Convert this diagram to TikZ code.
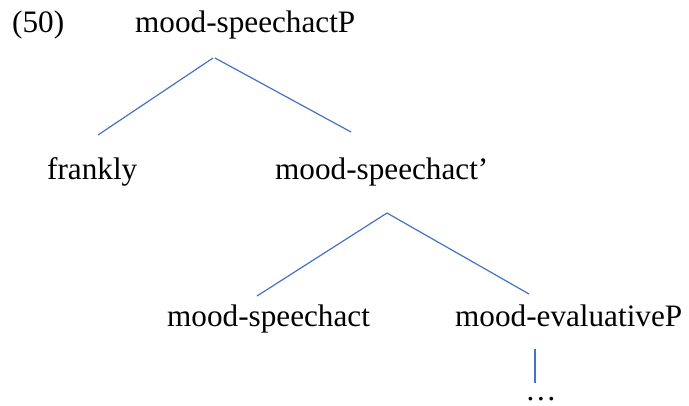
\documentclass[tikz,border=0pt]{standalone}
\usepackage{fontspec}
\setmainfont{Liberation Serif}
\begin{document}
\begin{tikzpicture}[x=1pt,y=-1pt,
  lbl/.style={inner sep=0pt,anchor=base west,font=\fontsize{31.2}{37}\selectfont},
  branch/.style={draw={rgb,255:red,68;green,114;blue,196},line width=1.2pt}]
\useasboundingbox (0,0) rectangle (689,405);
\node[lbl] (ex) at (12,32) {(50)};
\node[lbl] (root) at (135,32) {mood-speechactP};
\node[lbl] (frankly) at (47,179) {frankly};
\node[lbl] (bar) at (275,179) {mood-speechact’};
\node[lbl] (head) at (167,326) {mood-speechact};
\node[lbl] (eval) at (455,326) {mood-evaluativeP};
\node[inner sep=0pt,anchor=base,text depth=0pt,font=\fontsize{31.2}{37}\selectfont] (dots) at (541,400) {…};
\coordinate (r1) at (213,58);
\coordinate (r2) at (215,58);
\coordinate (f1) at (98,135);
\coordinate (b1) at (351,132);
\coordinate (b2) at (387,213);
\coordinate (h1) at (257,296);
\coordinate (e1) at (529,294);
\coordinate (e2) at (535,349);
\coordinate (d1) at (535,383);
\draw[branch] (r1) -- (f1);
\draw[branch] (r2) -- (b1);
\draw[branch] (b2) -- (h1);
\draw[branch] (b2) -- (e1);
\draw[branch] (e2) -- (d1);
\end{tikzpicture}
\end{document}
